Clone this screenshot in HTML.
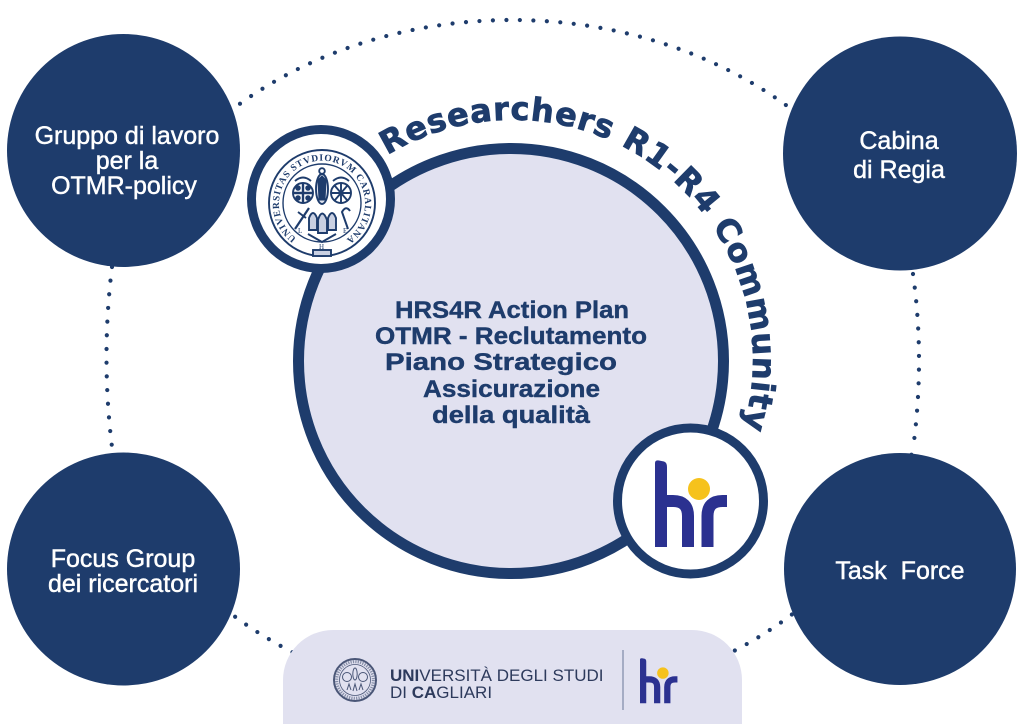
<!DOCTYPE html>
<html>
<head>
<meta charset="utf-8">
<style>
html,body{margin:0;padding:0;background:#fff;}
svg{display:block;}
</style>
</head>
<body>
<svg width="1024" height="724" viewBox="0 0 1024 724" xmlns="http://www.w3.org/2000/svg">
  <rect width="1024" height="724" fill="#ffffff"/>

  <defs>
    <clipPath id="tb">
      <rect x="0" y="0" width="1024" height="262"/>
      <rect x="0" y="452" width="1024" height="272"/>
    </clipPath>
    <path id="arcTitle" d="M387.4 155.3 A240 240 0 1 1 631 568.8"/>
    <path id="arcSeal" d="M296.4 238.2 A43 43 0 1 1 347.6 238.2"/>
  </defs>

  <!-- dotted connectors -->
  <g fill="none" stroke="#1e3c6c" stroke-width="4.2" stroke-linecap="round">
    <ellipse cx="512" cy="362" rx="415" ry="342" stroke-dasharray="0 13.5" clip-path="url(#tb)"/>
    <path d="M112 267 Q101 357 112 447" stroke-dasharray="0 13.7"/>
    <path d="M913 274 Q925 360 913 449" stroke-dasharray="0 13.7"/>
  </g>

  <!-- corner circles -->
  <circle cx="123.5" cy="150.5" r="116.5" fill="#1e3c6c"/>
  <circle cx="900" cy="153.5" r="117" fill="#1e3c6c"/>
  <circle cx="123.5" cy="569" r="116.5" fill="#1e3c6c"/>
  <circle cx="900" cy="569" r="116" fill="#1e3c6c"/>

  <g font-family="'Liberation Sans', sans-serif" font-size="25" fill="#ffffff" stroke="#ffffff" stroke-width="0.45" text-anchor="middle">
    <text x="127" y="144">Gruppo di lavoro</text>
    <text x="127" y="169">per la</text>
    <text x="124" y="194">OTMR-policy</text>
    <text x="899" y="149">Cabina</text>
    <text x="899" y="178">di Regia</text>
    <text x="123" y="567">Focus Group</text>
    <text x="123" y="592">dei ricercatori</text>
    <text x="900" y="579">Task&#160;&#160;Force</text>
  </g>

  <!-- main central circle -->
  <circle cx="511" cy="361" r="212.5" fill="#e1e1f0" stroke="#1e3c6c" stroke-width="11"/>

  <g font-family="'Liberation Sans', sans-serif" font-weight="bold" font-size="24" fill="#1e3c6c" stroke="#1e3c6c" stroke-width="0.4">
    <text x="395" y="318" textLength="234" lengthAdjust="spacingAndGlyphs">HRS4R Action Plan</text>
    <text x="375" y="344" textLength="272" lengthAdjust="spacingAndGlyphs">OTMR - Reclutamento</text>
    <text x="385" y="370" textLength="232" lengthAdjust="spacingAndGlyphs">Piano Strategico</text>
    <text x="423" y="397" textLength="177" lengthAdjust="spacingAndGlyphs">Assicurazione</text>
    <text x="432" y="423" textLength="158" lengthAdjust="spacingAndGlyphs">della qualità</text>
  </g>

  <!-- curved title -->
  <text font-family="'DejaVu Sans', 'Liberation Sans', sans-serif" font-weight="bold" font-size="32" letter-spacing="0.8" fill="#1e3c6c" stroke="#1e3c6c" stroke-width="0.8">
    <textPath href="#arcTitle">Researchers R1-R4 Community</textPath>
  </text>

  <!-- seal circle -->
  <circle cx="321" cy="199" r="69.5" fill="#ffffff" stroke="#1e3c6c" stroke-width="9"/>
  <g fill="none" stroke="#1e3c6c" stroke-width="1.9">
    <circle cx="322" cy="203" r="53"/>
    <circle cx="322" cy="203" r="39" stroke-width="1.4"/>
    <!-- madonna -->
    <ellipse cx="322" cy="189" rx="6" ry="15" fill="#dfe3ee"/>
    <path d="M318 180 L322 176 L326 180 L325 200 L319 200 Z" fill="#1e3c6c" stroke-width="1"/>
    <circle cx="322" cy="171" r="2.8"/>
    <!-- left emblem -->
    <circle cx="303" cy="193" r="10"/>
    <line x1="303" y1="184" x2="303" y2="202" stroke-width="2.4"/>
    <line x1="294" y1="193" x2="312" y2="193" stroke-width="2.4"/>
    <circle cx="298" cy="188" r="1.8" fill="#1e3c6c"/>
    <circle cx="308" cy="188" r="1.8" fill="#1e3c6c"/>
    <circle cx="298" cy="198" r="1.8" fill="#1e3c6c"/>
    <circle cx="308" cy="198" r="1.8" fill="#1e3c6c"/>
    <path d="M295 181 Q303 174 311 181"/>
    <!-- right emblem -->
    <circle cx="341" cy="193" r="10"/>
    <line x1="335" y1="186" x2="347" y2="200"/>
    <line x1="347" y1="186" x2="335" y2="200"/>
    <line x1="341" y1="184" x2="341" y2="202"/>
    <line x1="332" y1="193" x2="350" y2="193"/>
    <path d="M333 181 Q341 174 349 181"/>
    <!-- bottom row -->
    <line x1="295" y1="229" x2="309" y2="208" stroke-width="2.2"/>
    <line x1="298" y1="212" x2="306" y2="218"/>
    <path d="M309 230 L309 218 Q313 208 317 218 L317 230 Z" fill="#c9d0e2"/>
    <path d="M318 233 L318 220 Q322 207 327 220 L327 233 Z" fill="#c9d0e2"/>
    <path d="M328 230 L328 218 Q332 208 336 218 L336 230 Z" fill="#c9d0e2"/>
    <path d="M348 229 L342 212 Q346 205 350 211" stroke-width="2"/>
    <path d="M308 234 L322 242 L336 234"/>
    <rect x="313" y="250" width="18" height="6" fill="#c9d0e2"/>
  </g>
  <g font-family="'Liberation Serif', serif" fill="#1e3c6c">
    <text x="298" y="233" font-size="7">L</text>
    <text x="343" y="233" font-size="7">E</text>
    <text x="319" y="249" font-size="7">H</text>
    <text font-size="9.5" font-weight="bold" letter-spacing="0.8">
      <textPath href="#arcSeal">UNIVERSITAS STVDIORVM CARALITANA</textPath>
    </text>
  </g>

  <!-- hr circle -->
  <circle cx="690.5" cy="501" r="73" fill="#ffffff" stroke="#1e3c6c" stroke-width="9"/>
  <g transform="translate(655,460)">
    <path d="M0 3 Q0 0 4 0.5 L9 1.5 Q12 2.5 12 7 L12 87 L0 87 Z" fill="#2b3190"/>
    <path d="M6 41 L18 41 Q33 41 33 56 L33 87" fill="none" stroke="#2b3190" stroke-width="12"/>
    <path d="M52.5 87 L52.5 56 Q52.5 41 67.5 41 L72 41" fill="none" stroke="#2b3190" stroke-width="12"/>
    <circle cx="44" cy="29" r="11" fill="#f6c21c"/>
  </g>

  <!-- bottom banner -->
  <path d="M283 724 V680 A50 50 0 0 1 333 630 H692 A50 50 0 0 1 742 680 V724 Z" fill="#e1e1f0"/>

  <!-- small seal in banner -->
  <g fill="none" stroke="#4a5677">
    <circle cx="355" cy="680" r="21" stroke-width="2"/>
    <circle cx="355" cy="680" r="15.5" stroke-width="0.8"/>
    <circle cx="355" cy="680" r="18.3" stroke-width="3" stroke-dasharray="1.2 1.2" opacity="0.6"/>
    <circle cx="347" cy="677" r="4.5" stroke-width="1"/>
    <circle cx="363" cy="677" r="4.5" stroke-width="1"/>
    <ellipse cx="355" cy="674" rx="2.2" ry="6" stroke-width="1"/>
    <path d="M347 690 L349 684 L351 690 M353 691 L355 684 L357 691 M359 690 L361 684 L363 690" stroke-width="1"/>
  </g>

  <g font-family="'Liberation Sans', sans-serif" font-size="17" fill="#2d3a5c">
    <text x="390" y="681"><tspan font-weight="bold">UNI</tspan>VERSITÀ DEGLI STUDI</text>
    <text x="390" y="698">DI <tspan font-weight="bold">CA</tspan>GLIARI</text>
  </g>

  <line x1="623" y1="650" x2="623" y2="710" stroke="#7d88a6" stroke-width="1.2"/>

  <g transform="translate(640,658) scale(0.52)">
    <path d="M0 3 Q0 0 4 0.5 L9 1.5 Q12 2.5 12 7 L12 87 L0 87 Z" fill="#2b3190"/>
    <path d="M6 41 L18 41 Q33 41 33 56 L33 87" fill="none" stroke="#2b3190" stroke-width="12"/>
    <path d="M52.5 87 L52.5 56 Q52.5 41 67.5 41 L72 41" fill="none" stroke="#2b3190" stroke-width="12"/>
    <circle cx="44" cy="29" r="11" fill="#f6c21c"/>
  </g>
</svg>
</body>
</html>
